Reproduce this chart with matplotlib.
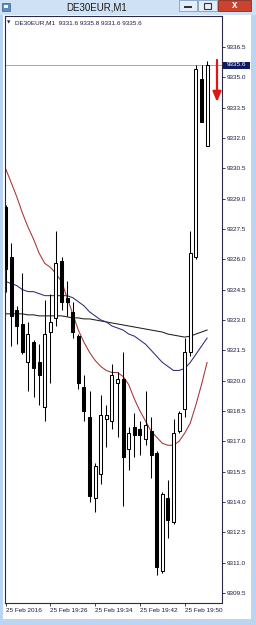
import matplotlib
matplotlib.use('Agg')
import matplotlib.pyplot as plt
from matplotlib.patches import Rectangle
import numpy as np

symbol = "DE30EUR,M1"
opens = [9328.6, 9326.1, 9323.5, 9322.8, 9320.9, 9321.9, 9320.9, 9318.7, 9322.4, 9323.1,
         9325.9, 9324.1, 9323.4, 9322.2, 9319.7, 9318.2, 9314.2, 9315.4, 9318.1, 9318.0,
         9319.9, 9320.1, 9316.6, 9317.7, 9317.6, 9317.1, 9317.5, 9316.4, 9310.6, 9314.2,
         9313.0, 9317.5, 9318.6, 9321.4, 9326.1, 9334.9, 9331.6]
highs = [9328.7, 9326.8, 9323.7, 9325.3, 9322.9, 9322.0, 9321.8, 9324.0, 9324.3, 9327.4,
         9326.1, 9324.9, 9323.9, 9322.3, 9320.3, 9319.5, 9315.9, 9319.3, 9318.8, 9320.8,
         9320.4, 9321.4, 9317.7, 9318.4, 9318.0, 9319.5, 9318.2, 9316.5, 9314.5, 9315.1,
         9318.1, 9318.5, 9322.1, 9327.4, 9335.6, 9335.6, 9335.8]
lows = [9324.4, 9321.7, 9321.8, 9321.3, 9319.5, 9319.2, 9318.8, 9318.0, 9319.9, 9322.7,
        9323.5, 9323.2, 9322.1, 9319.6, 9318.0, 9314.0, 9313.5, 9314.9, 9316.7, 9317.6,
        9317.2, 9313.8, 9315.6, 9316.2, 9316.3, 9316.8, 9315.2, 9310.4, 9310.5, 9312.2,
        9312.9, 9317.4, 9318.2, 9321.2, 9326.0, 9332.8, 9331.6]
closes = [9325.5, 9323.2, 9322.7, 9321.4, 9322.3, 9320.6, 9320.3, 9322.3, 9322.9, 9325.8,
          9323.9, 9323.9, 9322.4, 9319.9, 9318.5, 9314.3, 9315.8, 9318.3, 9318.3, 9320.3,
          9320.1, 9316.2, 9317.4, 9317.3, 9317.3, 9317.8, 9316.3, 9310.8, 9314.4, 9313.1,
          9317.4, 9318.4, 9321.4, 9326.3, 9335.4, 9332.8, 9335.6]
ma_red = [9330.5, 9329.8, 9329.1, 9328.3, 9327.6, 9327.0, 9326.3, 9325.8, 9325.6, 9325.3,
          9324.9, 9324.1, 9323.3, 9322.5, 9321.9, 9321.4, 9321.0, 9320.7, 9320.5, 9320.4,
          9320.4, 9320.2, 9319.8, 9319.1, 9318.5, 9318.0, 9317.5, 9317.2, 9316.9, 9316.8,
          9316.8, 9317.0, 9317.4, 9317.9, 9318.8, 9319.8, 9320.9]
ma_blue = [9324.9, 9324.8, 9324.7, 9324.5, 9324.4, 9324.4, 9324.3, 9324.2, 9324.2, 9324.2,
           9324.2, 9324.2, 9324.1, 9323.9, 9323.7, 9323.4, 9323.2, 9323.0, 9322.9, 9322.7,
           9322.6, 9322.5, 9322.3, 9322.2, 9322.0, 9321.8, 9321.5, 9321.2, 9320.9, 9320.7,
           9320.5, 9320.5, 9320.6, 9320.9, 9321.3, 9321.7, 9322.1]
ma_black = [9323.3, 9323.3, 9323.3, 9323.3, 9323.25, 9323.25, 9323.2, 9323.2, 9323.2, 9323.2,
            9323.2, 9323.15, 9323.1, 9323.1, 9323.05, 9323.05, 9323.0, 9322.95, 9322.9, 9322.85,
            9322.8, 9322.75, 9322.7, 9322.65, 9322.6, 9322.55, 9322.5, 9322.45, 9322.4, 9322.3,
            9322.25, 9322.2, 9322.15, 9322.2, 9322.3, 9322.4, 9322.5]
price_ticks = [9309.5, 9311.0, 9312.5, 9314.0, 9315.5, 9317.0, 9318.5, 9320.0, 9321.5,
               9323.0, 9324.5, 9326.0, 9327.5, 9329.0, 9330.5, 9332.0, 9333.5, 9335.0, 9336.5]
time_labels = ["25 Feb 2016", "25 Feb 19:26", "25 Feb 19:34", "25 Feb 19:42", "25 Feb 19:50"]
time_label_bars = [0, 8, 16, 24, 32]

FONT = ['Liberation Sans', 'DejaVu Sans']
W, H = 256, 625
def fx(px): return px / W
def fy(py): return 1 - py / H

fig = plt.figure(figsize=(2.56, 6.25), dpi=100)
fig.patch.set_facecolor('#b9d5f1')

# client area
fig.patches.append(Rectangle((fx(3), fy(619)), (251 - 3) / W, (619 - 15) / H,
                             transform=fig.transFigure, fc='white', ec='none', zorder=-2))
# title bar
fig.patches.append(Rectangle((0, fy(15)), 1, 15 / H, transform=fig.transFigure,
                             fc='#cfe1f5', ec='none', zorder=-2))
fig.text(fx(97), fy(7), symbol, fontsize=7, family=FONT, color='#1a1a1a', ha='center', va='center')
# icon
fig.patches.append(Rectangle((fx(2), fy(11)), 8 / W, 8 / H, transform=fig.transFigure,
                             fc='#5d8cc4', ec='#3a5f8f', lw=0.5, zorder=2))
fig.patches.append(Rectangle((fx(4), fy(8)), 4 / W, 3 / H, transform=fig.transFigure,
                             fc='white', ec='none', zorder=3))
# window buttons
for x0, x1 in [(179, 197), (198, 217)]:
    fig.patches.append(Rectangle((fx(x0), fy(11)), (x1 - x0) / W, 11 / H, transform=fig.transFigure,
                                 fc='#e4eef9', ec='#7f9fc4', lw=0.6, zorder=2))
fig.patches.append(Rectangle((fx(184), fy(7.5)), 8 / W, 1.8 / H, transform=fig.transFigure,
                             fc='#333333', ec='none', zorder=3))
fig.patches.append(Rectangle((fx(203.5), fy(8.5)), 7 / W, 5 / H, transform=fig.transFigure,
                             fc='none', ec='#333333', lw=0.8, zorder=3))
fig.patches.append(Rectangle((fx(218), fy(11)), (251 - 218) / W, 11 / H, transform=fig.transFigure,
                             fc='#c9432e', ec='#8a2a1c', lw=0.6, zorder=2))
fig.text(fx(234.5), fy(5.5), "x", fontsize=7, family=FONT, color='white', weight='bold',
         ha='center', va='center')

ax = fig.add_axes([fx(5), fy(603), (222 - 5) / W, (603 - 16) / H])
ax.set_zorder(1)
ax.set_facecolor('white')
n = len(opens)
xs = np.arange(n)

# moving averages
ax.plot(xs, ma_black, color='#1e1e1e', lw=0.75, zorder=2)
ax.plot(xs, ma_blue, color='#2c2c7a', lw=0.75, zorder=2)
ax.plot(xs, ma_red, color='#a83232', lw=0.75, zorder=2)

# bid line
ax.axhline(closes[-1], color='#a8a8a8', lw=0.7, zorder=1)

# candles
o = np.array(opens); c = np.array(closes); hi = np.array(highs); lo = np.array(lows)
ax.vlines(xs, lo, hi, color='black', lw=0.75, zorder=3)
bull = c >= o
bottoms = np.minimum(o, c)
heights = np.maximum(np.abs(c - o), 0.12)
ax.bar(xs[bull], heights[bull], bottom=bottoms[bull], width=0.55, color='white',
       edgecolor='black', linewidth=0.75, zorder=4)
ax.bar(xs[~bull], heights[~bull], bottom=bottoms[~bull], width=0.55, color='black',
       edgecolor='black', linewidth=0.75, zorder=4)

ax.set_xlim(-0.09, 38.66)
ax.set_ylim(9309.0, 9338.03)

ax.yaxis.tick_right()
ax.set_yticks(price_ticks)
ax.set_yticklabels([f"{v:.1f}" for v in price_ticks])
ax.set_xticks(time_label_bars)
ax.set_xticklabels(time_labels)
ax.tick_params(axis='y', direction='out', length=2.5, width=0.6, pad=1.2, labelsize=4.6,
               colors='#1a1a40')
ax.tick_params(axis='x', direction='out', length=2.5, width=0.6, pad=1.2, labelsize=4.6,
               colors='#1a1a40')
for lab in ax.get_xticklabels():
    lab.set_horizontalalignment('left')
    lab.set_family(FONT)
for lab in ax.get_yticklabels():
    lab.set_family(FONT)
for s in ax.spines.values():
    s.set_color('#2a2a44')
    s.set_linewidth(0.8)

# last price box
fig.patches.append(Rectangle((fx(223), fy(68.5)), 27 / W, 7 / H, transform=fig.transFigure,
                             fc='#0d1b63', ec='none', zorder=5))
fig.text(fx(236.5), fy(65), f"{closes[-1]:.1f}", fontsize=4.6, family=FONT, color='white',
         ha='center', va='center', zorder=6)

# header text
fig.text(fx(7), fy(22.5), "\u25bc", fontsize=3.2, family=['DejaVu Sans'], color='#1a1a40',
         ha='left', va='center', zorder=6)
fig.text(fx(15), fy(22.5), f"{symbol}  {opens[-1]:.1f} {highs[-1]:.1f} {lows[-1]:.1f} {closes[-1]:.1f}",
         fontsize=4.6, family=FONT, color='#1a1a40', ha='left', va='center', zorder=6)

# red arrow annotation
ax.annotate('', xy=(fx(217), fy(102)), xytext=(fx(217), fy(60)), xycoords='figure fraction',
            textcoords='figure fraction',
            arrowprops=dict(arrowstyle='-|>,head_width=0.25,head_length=0.6', color='#e01515',
                            lw=1.6, shrinkA=0, shrinkB=0), annotation_clip=False)

fig.savefig('out.png', dpi=100, facecolor=fig.get_facecolor())
